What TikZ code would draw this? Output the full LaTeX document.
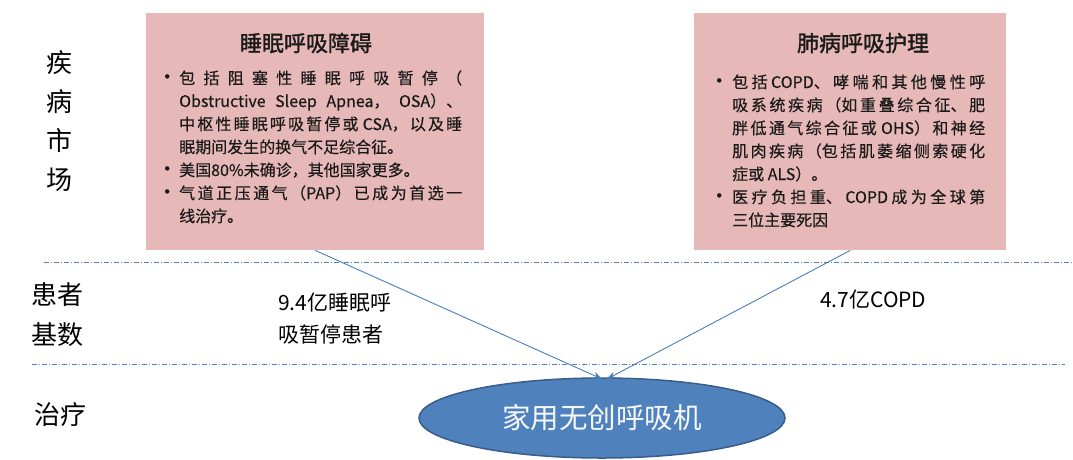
\documentclass[tikz,border=0pt]{standalone}
\usepackage{fontspec}
\setmainfont{Noto Sans CJK SC}
\newfontfamily\cjkb{Noto Sans CJK SC}[FakeBold=1.5]
\newfontfamily\cjkm{Noto Sans CJK SC}[FakeBold=0.4]
\usetikzlibrary{shapes.geometric,arrows.meta,calc}
\definecolor{boxpink}{HTML}{E6B8B7}
\definecolor{lineblue}{HTML}{4F81BD}
\definecolor{arrblue}{HTML}{4A7EBB}
\definecolor{elldraw}{HTML}{385D8A}
\definecolor{txt}{HTML}{1A1A1A}
\XeTeXlinebreaklocale "zh"
\XeTeXlinebreakskip=0pt plus 6pt
\newcommand{\bul}[1]{\par\noindent\hangindent=#1\hangafter=1\makebox[#1][l]{\hspace*{1pt}\raisebox{4pt}{\rule{0pt}{0pt}\smash{\fontsize{20}{20}\selectfont\raisebox{-4pt}{•}}}}\ignorespaces}
\newenvironment{bodytext}[1]{\begin{minipage}[t]{#1}\cjkm\fontsize{16}{23}\selectfont\tolerance=10000\hbadness=10000\parindent=0pt\parskip=0pt}{\end{minipage}}
\tikzset{
  pinkbox/.style={draw=none, fill=boxpink, minimum width=#1, minimum height=237pt, inner sep=0pt, anchor=north west},
  boxtitle/.style={font=\cjkb\fontsize{22}{26}\selectfont, text=txt, inner sep=0pt},
  boxbody/.style={inner sep=0pt, anchor=base west, text=txt},
  sidelab/.style={font=\fontsize{26}{39}\selectfont, text=black, inner sep=0pt, align=center},
  numlab/.style={font=\fontsize{21}{32}\selectfont, text=black, inner sep=0pt, align=left, anchor=west},
  sepline/.style={draw=lineblue, line width=1pt, dash pattern=on 5pt off 2pt on 1pt off 2pt},
  conn/.style={draw=arrblue, line width=0.9pt, -{Stealth[length=9pt,width=7pt]}},
}
\begin{document}
\begin{tikzpicture}[x=1pt,y=-1pt]
\useasboundingbox (0,0) rectangle (1073,459);
% boxes
\node[pinkbox=338pt] (lbox) at (146,13) {};
\node[pinkbox=312pt] (rbox) at (694,13) {};
\node[boxtitle] (ltitle) at (306,43) {睡眠呼吸障碍};
\node[boxtitle] (rtitle) at (863,43) {肺病呼吸护理};
\node[boxbody] (lbody) at (156,84) {\begin{bodytext}{306pt}%
\bul{23pt}包括阻塞性睡眠呼吸暂停（\linebreak Obstructive Sleep Apnea，\ OSA）、\linebreak 中枢性睡眠呼吸暂停或\ CSA，以及睡\linebreak 眠期间发生的换气不足综合征。
\bul{23pt}美国80\%未确诊，其他国家更多。
\bul{23pt}气道正压通气（PAP）已成为首选一\linebreak 线治疗。\end{bodytext}};
\node[boxbody] (rbody) at (708,88) {\begin{bodytext}{277pt}%
\bul{24pt}包括COPD、哮喘和其他慢性呼\linebreak 吸系统疾病（如重叠综合征、肥\linebreak 胖低通气综合征或\ OHS）和神经\linebreak 肌肉疾病（包括肌萎缩侧索硬化\linebreak 症或\ ALS）。
\bul{24pt}医疗负担重、COPD成为全球第\linebreak 三位主要死因\end{bodytext}};
% separators
\coordinate (s1a) at (44,262);
\coordinate (s1b) at (1073,262);
\coordinate (s2a) at (32,364);
\coordinate (s2b) at (1065,364);
\draw[sepline] (s1a) -- (s1b);
\draw[sepline] (s2a) -- (s2b);
% side labels
\node[sidelab] (lab1) at (59,121) {疾\\病\\市\\场};
\node[sidelab, font=\fontsize{26}{40}\selectfont] (lab2) at (57,315) {患者\\基数};
\node[sidelab] (lab3) at (60,415) {治疗};
% ellipse
\node[ellipse, fill=lineblue, draw=elldraw, line width=1.5pt, minimum width=366pt, minimum height=80pt, inner sep=0pt,
  text=white!94!lineblue, font=\fontsize{28.5}{30}\selectfont] (ell) at (602,418) {家用无创呼吸机};
% arrow labels
\node[numlab] (nl1) at (278,319) {9.4亿睡眠呼\\吸暂停患者};
\node[numlab] (nl2) at (820,300) {4.7亿COPD};
% connectors
\coordinate (e1) at (602,379);
\coordinate (e2) at (607,379);
\draw[conn] (lbox.south) -- (e1);
\draw[conn] (rbox.south) -- (e2);
\end{tikzpicture}
\end{document}
